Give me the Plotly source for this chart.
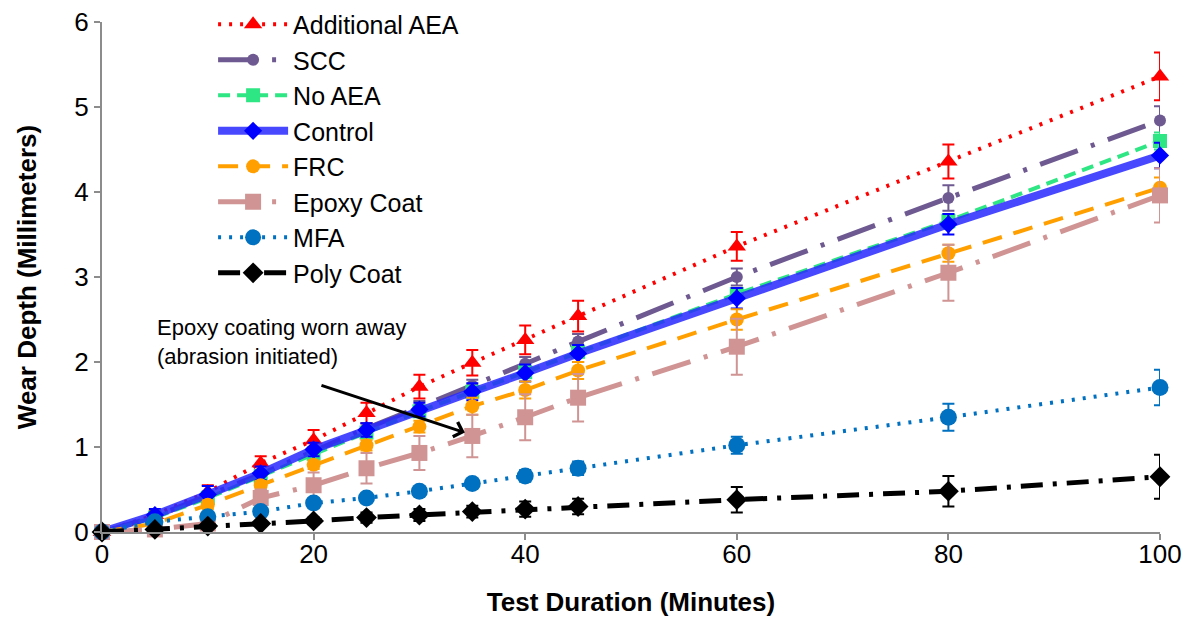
import plotly.graph_objects as go

minutes = [0, 5, 10, 15, 20, 25, 30, 35, 40, 45, 60, 80, 100]

add_aea = [0, 0.2, 0.47, 0.81, 1.08, 1.40, 1.71, 1.99, 2.26, 2.54, 3.36, 4.36, 5.36]
add_aea_err = [0, 0.05, 0.08, 0.08, 0.12, 0.12, 0.14, 0.15, 0.17, 0.18, 0.17, 0.2, 0.28]
scc = [0, 0.18, 0.43, 0.68, 0.95, 1.22, 1.47, 1.72, 1.98, 2.24, 3.0, 3.93, 4.84]
scc_err = [0, 0.03, 0.05, 0.05, 0.05, 0.06, 0.07, 0.07, 0.08, 0.09, 0.1, 0.15, 0.17]
no_aea = [0, 0.17, 0.40, 0.66, 0.92, 1.17, 1.42, 1.65, 1.88, 2.12, 2.8, 3.66, 4.6]
no_aea_err = [0, 0.02, 0.03, 0.03, 0.04, 0.04, 0.05, 0.05, 0.06, 0.06, 0.07, 0.08, 0.1]
control = [0, 0.2, 0.44, 0.69, 0.97, 1.2, 1.44, 1.65, 1.87, 2.1, 2.75, 3.62, 4.43]
control_err = [0, 0.07, 0.1, 0.08, 0.08, 0.08, 0.08, 0.1, 0.1, 0.1, 0.12, 0.12, 0.15]
frc = [0, 0.1, 0.32, 0.55, 0.79, 1.02, 1.24, 1.48, 1.67, 1.9, 2.5, 3.28, 4.05]
frc_err = [0, 0.03, 0.05, 0.05, 0.05, 0.06, 0.07, 0.1, 0.1, 0.1, 0.12, 0.1, 0.12]
epoxy = [0, 0.03, 0.1, 0.40, 0.55, 0.75, 0.93, 1.13, 1.35, 1.58, 2.18, 3.05, 3.96]
epoxy_err = [0, 0.03, 0.05, 0.1, 0.15, 0.18, 0.2, 0.25, 0.27, 0.28, 0.33, 0.33, 0.32]
mfa = [0, 0.12, 0.18, 0.24, 0.34, 0.40, 0.48, 0.57, 0.66, 0.75, 1.02, 1.35, 1.70]
mfa_err = [0, 0.02, 0.03, 0.03, 0.04, 0.04, 0.05, 0.05, 0.07, 0.08, 0.1, 0.16, 0.21]
poly = [0, 0.03, 0.07, 0.1, 0.13, 0.17, 0.2, 0.24, 0.27, 0.3, 0.38, 0.48, 0.65]
poly_err = [0, 0.01, 0.02, 0.03, 0.04, 0.06, 0.07, 0.07, 0.09, 0.09, 0.15, 0.18, 0.26]

series = [
    ("Additional AEA", add_aea, add_aea_err, "#FF0000", "#FF0000", "3px,8px", 4, "triangle-up", 16),
    ("SCC", scc, scc_err, "#6E5A90", "#6E5A90", "40px,14px,4px,14px", 5, "circle", 12),
    ("No AEA", no_aea, no_aea_err, "#2EE683", "#2EE683", "12px,7px", 4, "square", 14),
    ("Control", control, control_err, "rgba(40,40,255,0.85)", "#0000FF", "solid", 8, "diamond", 14),
    ("FRC", frc, frc_err, "#FFA000", "#FFA000", "20px,12px", 4, "circle", 14),
    ("Epoxy Coat", epoxy, epoxy_err, "#D09494", "#D09494", "40px,14px,4px,14px", 5, "square", 16),
    ("MFA", mfa, mfa_err, "#0070C0", "#0070C0", "3px,8px", 4, "circle", 17),
    ("Poly Coat", poly, poly_err, "#000000", "#000000", "22px,10px,4px,10px", 5, "diamond", 16),
]

FONT = "Liberation Sans, Arial, sans-serif"

fig = go.Figure()
for i, (name, ys, err, lc, mc, dash, w, sym, sz) in enumerate(series):
    fig.add_trace(go.Scatter(
        x=minutes, y=ys, name=name, mode="lines+markers",
        line=dict(color=lc, width=w, dash=dash),
        marker=dict(color=mc, symbol=sym, size=sz, line=dict(width=0)),
        error_y=dict(type="data", array=err, visible=True, color=mc, thickness=2, width=6),
        cliponaxis=False, legendgroup=f"g{i}",
    ))

fig.add_annotation(
    x=34.3, y=1.17, ax=20.6, ay=1.73, xref="x", yref="y", axref="x", ayref="y",
    text="", showarrow=True, arrowhead=4, arrowsize=1, arrowwidth=3, arrowcolor="#000000",
    standoff=0,
)
fig.add_annotation(
    x=5.0, y=2.24, xref="x", yref="y", xanchor="left", yanchor="middle",
    text="Epoxy coating worn away<br>(abrasion initiated)", showarrow=False, align="left",
    font=dict(family=FONT, size=22, color="#000000"),
)

fig.update_layout(
    width=1184, height=609,
    margin=dict(l=94, r=32, t=14, b=85, autoexpand=False),
    paper_bgcolor="white", plot_bgcolor="white",
    font=dict(family=FONT, size=26, color="#000000"),
    legend=dict(x=0.105, y=1.04, xanchor="left", yanchor="top", bgcolor="rgba(0,0,0,0)",
                font=dict(size=25), tracegroupgap=0, itemwidth=70, maxheight=600),
    xaxis=dict(range=[0, 100], dtick=20, showgrid=False, zeroline=False,
               showline=True, linecolor="#8C8C8C", linewidth=2, automargin=False,
               ticks="outside", ticklen=6, tickcolor="#8C8C8C", tickwidth=2,
               ticklabelstandoff=-8, ticklabeloverflow="allow",
               title=dict(text="<b>Test Duration (Minutes)</b>", font=dict(size=26), standoff=28)),
    yaxis=dict(range=[0, 6], dtick=1, showgrid=False, zeroline=False,
               showline=True, linecolor="#8C8C8C", linewidth=2, automargin=False,
               ticks="outside", ticklen=6, tickcolor="#8C8C8C", tickwidth=2,
               ticklabeloverflow="allow",
               title=dict(text="<b>Wear Depth (Millimeters)</b>", font=dict(size=26), standoff=30)),
)

fig.write_html("out.html")
